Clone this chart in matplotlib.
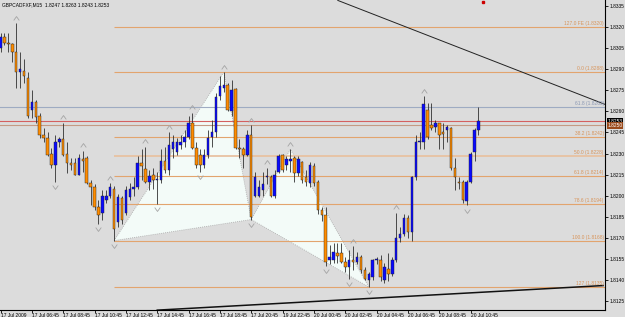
import matplotlib
matplotlib.use("Agg")
import matplotlib.pyplot as plt
from matplotlib.patches import Rectangle, Polygon
from matplotlib.path import Path
from matplotlib.transforms import blended_transform_factory

header = "GBPCADFXF,M15  1.8247 1.8263 1.8243 1.8253"

opens = [1.8305, 1.8313, 1.8309, 1.8308, 1.8302, 1.8288, 1.8289, 1.8284, 1.8261, 1.8267,
         1.8257, 1.8243, 1.8241, 1.8230, 1.8222, 1.8238, 1.8240, 1.8230, 1.8223, 1.8223,
         1.8215, 1.8226, 1.8227, 1.8209, 1.8206, 1.8192, 1.8188, 1.8197, 1.8200, 1.8205,
         1.8181, 1.8198, 1.8188, 1.8199, 1.8205, 1.8206, 1.8223, 1.8219, 1.8210, 1.8215,
         1.8211, 1.8211, 1.8225, 1.8218, 1.8233, 1.8231, 1.8236, 1.8238, 1.8242, 1.8252,
         1.8234, 1.8229, 1.8222, 1.8229, 1.8242, 1.8245, 1.8271, 1.8277, 1.8279, 1.8260,
         1.8276, 1.8234, 1.8233, 1.8229, 1.8243, 1.8200, 1.8200, 1.8204, 1.8213, 1.8213,
         1.8200, 1.8217, 1.8229, 1.8222, 1.8225, 1.8227, 1.8216, 1.8224, 1.8213, 1.8209,
         1.8221, 1.8210, 1.8190, 1.8186, 1.8154, 1.8154, 1.8159, 1.8159, 1.8153, 1.8149,
         1.8154, 1.8153, 1.8156, 1.8147, 1.8140, 1.8142, 1.8154, 1.8154, 1.8140, 1.8148,
         1.8144, 1.8154, 1.8170, 1.8173, 1.8184, 1.8174, 1.8213, 1.8238, 1.8238, 1.8261,
         1.8250, 1.8249, 1.8252, 1.8245, 1.8247, 1.8248, 1.8220, 1.8210, 1.8210, 1.8196,
         1.8210, 1.8231, 1.8247]
highs = [1.8316, 1.8316, 1.8316, 1.8309, 1.8323, 1.8302, 1.8297, 1.8288, 1.8275, 1.8268,
         1.8259, 1.8248, 1.8245, 1.8234, 1.8243, 1.8242, 1.8252, 1.8238, 1.8227, 1.8227,
         1.8230, 1.8232, 1.8228, 1.8211, 1.8208, 1.8197, 1.8204, 1.8204, 1.8209, 1.8207,
         1.8201, 1.8200, 1.8207, 1.8209, 1.8213, 1.8228, 1.8233, 1.8235, 1.8218, 1.8220,
         1.8217, 1.8233, 1.8235, 1.8245, 1.8243, 1.8241, 1.8243, 1.8247, 1.8257, 1.8259,
         1.8238, 1.8233, 1.8233, 1.8247, 1.8254, 1.8273, 1.8285, 1.8288, 1.8280, 1.8282,
         1.8277, 1.8240, 1.8235, 1.8247, 1.8250, 1.8217, 1.8211, 1.8217, 1.8220, 1.8215,
         1.8218, 1.8230, 1.8230, 1.8228, 1.8233, 1.8228, 1.8228, 1.8225, 1.8218, 1.8224,
         1.8223, 1.8211, 1.8192, 1.8192, 1.8165, 1.8166, 1.8166, 1.8166, 1.8156, 1.8161,
         1.8164, 1.8160, 1.8158, 1.8149, 1.8146, 1.8155, 1.8156, 1.8158, 1.8152, 1.8159,
         1.8156, 1.8188, 1.8178, 1.8187, 1.8186, 1.8214, 1.8243, 1.8245, 1.8271, 1.8266,
         1.8266, 1.8254, 1.8252, 1.8252, 1.8250, 1.8249, 1.8227, 1.8213, 1.8211, 1.8211,
         1.8231, 1.8248, 1.8263]
lows = [1.8302, 1.8307, 1.8302, 1.8295, 1.8277, 1.8277, 1.8280, 1.8255, 1.8255, 1.8252,
        1.8241, 1.8238, 1.8228, 1.8220, 1.8210, 1.8235, 1.8228, 1.8216, 1.8218, 1.8215,
        1.8215, 1.8217, 1.8208, 1.8193, 1.8190, 1.8180, 1.8183, 1.8195, 1.8198, 1.8168,
        1.8178, 1.8180, 1.8186, 1.8197, 1.8200, 1.8205, 1.8211, 1.8209, 1.8204, 1.8205,
        1.8194, 1.8209, 1.8216, 1.8215, 1.8227, 1.8229, 1.8233, 1.8235, 1.8240, 1.8233,
        1.8220, 1.8217, 1.8220, 1.8227, 1.8235, 1.8242, 1.8268, 1.8274, 1.8260, 1.8257,
        1.8233, 1.8227, 1.8220, 1.8228, 1.8183, 1.8199, 1.8199, 1.8200, 1.8208, 1.8199,
        1.8198, 1.8216, 1.8217, 1.8218, 1.8217, 1.8210, 1.8214, 1.8209, 1.8207, 1.8206,
        1.8207, 1.8187, 1.8182, 1.8150, 1.8151, 1.8152, 1.8152, 1.8152, 1.8146, 1.8141,
        1.8147, 1.8151, 1.8145, 1.8140, 1.8135, 1.8140, 1.8151, 1.8139, 1.8138, 1.8139,
        1.8143, 1.8153, 1.8167, 1.8171, 1.8170, 1.8168, 1.8211, 1.8233, 1.8233, 1.8240,
        1.8247, 1.8245, 1.8233, 1.8233, 1.8238, 1.8218, 1.8204, 1.8205, 1.8195, 1.8193,
        1.8209, 1.8225, 1.8243]
closes = [1.8313, 1.8309, 1.8308, 1.8302, 1.8288, 1.8290, 1.8285, 1.8257, 1.8267, 1.8256,
          1.8243, 1.8241, 1.8229, 1.8222, 1.8238, 1.8240, 1.8229, 1.8223, 1.8222, 1.8215,
          1.8227, 1.8225, 1.8209, 1.8206, 1.8192, 1.8186, 1.8200, 1.8200, 1.8206, 1.8176,
          1.8199, 1.8183, 1.8204, 1.8205, 1.8206, 1.8223, 1.8221, 1.8210, 1.8214, 1.8211,
          1.8212, 1.8225, 1.8218, 1.8236, 1.8238, 1.8238, 1.8238, 1.8242, 1.8252, 1.8234,
          1.8222, 1.8222, 1.8229, 1.8241, 1.8245, 1.8270, 1.8278, 1.8279, 1.8261, 1.8275,
          1.8234, 1.8233, 1.8229, 1.8243, 1.8185, 1.8213, 1.8206, 1.8208, 1.8214, 1.8200,
          1.8215, 1.8228, 1.8218, 1.8226, 1.8226, 1.8216, 1.8226, 1.8211, 1.8210, 1.8222,
          1.8209, 1.8190, 1.8186, 1.8153, 1.8156, 1.8160, 1.8157, 1.8153, 1.8149, 1.8154,
          1.8153, 1.8156, 1.8147, 1.8141, 1.8144, 1.8154, 1.8155, 1.8142, 1.8149, 1.8144,
          1.8154, 1.8170, 1.8173, 1.8184, 1.8174, 1.8213, 1.8238, 1.8239, 1.8265, 1.8242,
          1.8248, 1.8252, 1.8243, 1.8244, 1.8249, 1.8220, 1.8213, 1.8209, 1.8197, 1.8210,
          1.8230, 1.8247, 1.8253]

time_labels = ["17 Jul 2009", "17 Jul 06:45", "17 Jul 08:45", "17 Jul 10:45",
               "17 Jul 12:45", "17 Jul 14:45", "17 Jul 16:45", "17 Jul 18:45",
               "17 Jul 20:45", "19 Jul 22:45", "20 Jul 00:45", "20 Jul 02:45",
               "20 Jul 04:45", "20 Jul 06:45", "20 Jul 08:45", "20 Jul 10:45"]
time_label_bars = [0, 8, 16, 24, 32, 40, 48, 56, 64, 72, 80, 88, 96, 104, 112, 120]

price_ticks = [1.8335, 1.8320, 1.8305, 1.8290, 1.8275, 1.8260, 1.8245, 1.8230,
               1.8215, 1.8200, 1.8185, 1.8170, 1.8155, 1.8140, 1.8125]

fib_labels = ["127.0 FE (1.8320)", "0.0 (1.8288)", "38.2 (1.8242)", "50.0 (1.8228)",
              "61.8 (1.8214)", "78.6 (1.8194)", "100.0 (1.8168)", "127 (1.8135)"]
fib_prices = [1.8320, 1.8288, 1.8242, 1.8228, 1.8214, 1.8194, 1.8168, 1.8135]
fib_start_bar = 29

level2_label = "61.8 (1.8263)"
level2_price = 1.8263
bid_price = 1.8253
line2_price = 1.8250

# harmonic pattern points X, A, B, C, D (bar indices)
pattern_bars = [29, 57, 64, 74, 94]

fractal_up = [4, 16, 21, 28, 37, 43, 49, 57, 64, 68, 74, 90, 101, 108]
fractal_down = [14, 25, 29, 40, 51, 64, 83, 89, 94, 119]

trend_top_bars = [86.1, 154.3]
trend_top_prices = [1.8339, 1.8265]
trend_bot_bars = [40.0, 153.8]
trend_bot_prices = [1.81185, 1.8136]

BG = "#dcdcdc"
BULL = "#0a0aff"
BEAR = "#ff8c00"
FIB = "#e2a46e"
FS = 3.5
FONT = "Liberation Sans"

fig = plt.figure(figsize=(6.25, 3.17), dpi=100)
fig.patch.set_facecolor(BG)
ax = fig.add_axes([0, 7 / 317, 605 / 625, 310 / 317])
ax.set_facecolor(BG)
ax.set_xlim(-0.13, 154.3)
ax.set_ylim(1.81186, 1.83393)

for s in ["top", "left"]:
    ax.spines[s].set_visible(False)
for s in ["right", "bottom"]:
    ax.spines[s].set_color("black")
    ax.spines[s].set_linewidth(0.8)

# pattern triangles
X, A, B, C, D = pattern_bars
tri1 = [(X, lows[X]), (A, highs[A]), (B, lows[B])]
tri2 = [(B, lows[B]), (C, highs[C]), (D, lows[D])]
for tri in (tri1, tri2):
    ax.add_patch(Polygon(tri, closed=True, facecolor="#f3fbf8", edgecolor="#a8a8a8",
                         lw=0.6, ls=(0, (1, 1.5)), zorder=1))

# full-width lines
ax.axhline(level2_price, color="#9eabc2", lw=0.8, zorder=2)
ax.axhline(bid_price, color="#d46060", lw=0.8, zorder=2)
ax.axhline(line2_price, color="#c49a84", lw=0.8, zorder=2)

# fib lines and labels
xmax = ax.get_xlim()[1]
for lab, p in zip(fib_labels, fib_prices):
    lw = 1.3 if lab.startswith("50.0") else 0.8
    col = "#e8c2a2" if lab.startswith("50.0") else FIB
    ax.hlines(p, fib_start_bar, xmax, color=col, lw=lw, zorder=2)
    ax.text(xmax - 0.3, p + 0.00006, lab, ha="right", va="bottom", fontsize=FS,
            color="#d8945a", family=FONT, zorder=5)
ax.text(xmax - 0.3, level2_price + 0.00006, level2_label, ha="right", va="bottom",
        fontsize=FS, color="#8a98b4", family=FONT, zorder=5)

# trend lines
ax.plot(trend_top_bars, trend_top_prices, color="#222222", lw=0.7, zorder=2)
ax.plot(trend_bot_bars, trend_bot_prices, color="#111111", lw=1.1, zorder=2)

# candles
w = 0.64
for i, (o, h, l, c) in enumerate(zip(opens, highs, lows, closes)):
    ax.vlines(i, l, h, color="#303030", lw=0.6, zorder=3)
    bull = c >= o
    lo, hi = min(o, c), max(o, c)
    ax.add_patch(Rectangle((i - w / 2, lo), w, max(hi - lo, 0.00003),
                           facecolor=BULL if bull else BEAR, edgecolor="#202020",
                           lw=0.3, zorder=4))

# fractal arrows
up_path = Path([(-1, -0.7), (0, 0.7), (1, -0.7)], [Path.MOVETO, Path.LINETO, Path.LINETO])
dn_path = Path([(-1, 0.7), (0, -0.7), (1, 0.7)], [Path.MOVETO, Path.LINETO, Path.LINETO])
off = 0.00038
ax.plot(fractal_up, [highs[i] + off for i in fractal_up], ls="none", marker=up_path,
        ms=4, mfc="none", mec="#a4a4a4", mew=0.6, zorder=5)
ax.plot(fractal_down, [lows[i] - off for i in fractal_down], ls="none", marker=dn_path,
        ms=4, mfc="none", mec="#a4a4a4", mew=0.6, zorder=5)

# small red object at the top
ax.plot([123.1], [1.8338], marker="s", ms=1.5, color="#cc0000", zorder=6, clip_on=False)

# axes ticks
ax.yaxis.tick_right()
ax.set_yticks(price_ticks)
ax.set_yticklabels([f"{p:.4f}" for p in price_ticks], fontsize=FS, family=FONT)
ax.tick_params(axis="y", length=2, width=0.6, pad=1, colors="black")
ax.set_xticks(time_label_bars)
ax.set_xticklabels(time_labels, fontsize=FS, family=FONT)
ax.tick_params(axis="x", length=2, width=0.6, pad=0.5, colors="black")
for t in ax.get_xticklabels():
    t.set_ha("left")

# price boxes on the axis
tr = blended_transform_factory(ax.transAxes, ax.transData)
ax.text(1.004, bid_price, f"{bid_price:.4f}", transform=tr, ha="left", va="center",
        fontsize=FS, color="white", family=FONT, clip_on=False, zorder=7,
        bbox=dict(boxstyle="square,pad=0.15", fc="black", ec="none"))
ax.text(1.004, line2_price - 0.00002, f"{line2_price:.4f}", transform=tr, ha="left",
        va="center", fontsize=FS, color="white", family=FONT, clip_on=False, zorder=7,
        bbox=dict(boxstyle="square,pad=0.15", fc="#9a4a1c", ec="none"))

fig.text(2 / 625, 1 - 2 / 317, header, ha="left", va="top", fontsize=FS, family=FONT,
         color="black")

fig.savefig("out.png", dpi=100, facecolor=BG)
